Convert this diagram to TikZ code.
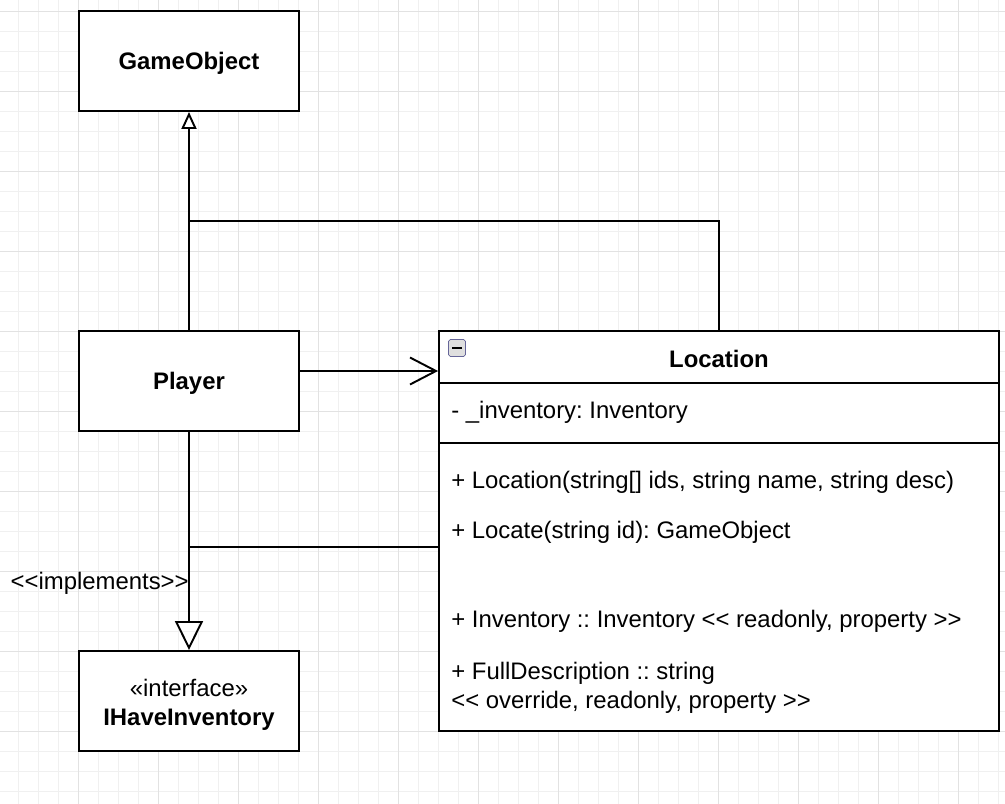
\documentclass[tikz,border=0pt]{standalone}
\usepackage{fontspec}
\setmainfont{Liberation Sans}[Ligatures=TeXOff]
\usetikzlibrary{arrows.meta}
\definecolor{gridminor}{HTML}{F0F0F0}
\definecolor{gridmajor}{HTML}{E2E2E2}
\frenchspacing

\begin{document}
\begin{tikzpicture}[x=0.02cm,y=-0.02cm,
   every node/.style={font=\fontsize{13.6}{16}\selectfont, inner sep=0pt,
      text height=9.6pt, text depth=0pt},
   umlbox/.style={draw, fill=white, line width=1.1pt, minimum width=4.4cm, minimum height=2cm},
   wire/.style={line width=1.1pt},
   member/.style={anchor=west},
   extends/.style={wire, -{Triangle[open, length=0.34cm, width=0.3cm]}},
   realizes/.style={wire, -{Triangle[open, length=0.58cm, width=0.56cm]}},
   assoc/.style={wire, -{Straight Barb[length=0.52cm, width=0.54cm, line width=1.1pt]}}]
   \useasboundingbox (0,0) rectangle (1005,804);
   % grid
   \foreach \x in {18,38,...,1005} \draw[gridminor, line width=0.5pt] (\x,0) -- (\x,804);
   \foreach \y in {11,31,...,804} \draw[gridminor, line width=0.5pt] (0,\y) -- (1005,\y);
   \foreach \x in {78,158,...,1005} \draw[gridmajor, line width=0.5pt] (\x,0) -- (\x,804);
   \foreach \y in {11,91,...,804} \draw[gridmajor, line width=0.5pt] (0,\y) -- (1005,\y);

   % classes
   \node[umlbox] (gobj) at (189,61) {\bfseries GameObject};
   \node[umlbox] (player) at (189,381) {\bfseries Player};
   \node[umlbox] (iinv) at (189,701) {};
   \node (iinvst) at (189,688) {«interface»};
   \node[font=\fontsize{13.6}{16}\selectfont\bfseries] (iinvname) at (189,717) {IHaveInventory};
   \node[draw, fill=white, line width=1.1pt, minimum width=11.2cm, minimum height=8cm]
      (loc) at (719,531) {};
   \node[font=\fontsize{13.6}{16}\selectfont\bfseries] (locname) at (719,359) {Location};
   \draw[wire] (439,383) -- (999,383);
   \draw[wire] (439,443) -- (999,443);
   \node[draw=gray!80!blue, fill=gray!25, rounded corners=1pt, minimum width=0.34cm,
      minimum height=0.34cm, text height=0pt] (fold) at (457,348) {};
   \draw[line width=1.4pt] (452,348) -- (462,348);
   \node[member] (attr) at (451,410) {- \_inventory: Inventory};
   \node[member] (m1) at (451,480) {+ Location(string[] ids, string name, string desc)};
   \node[member] (m2) at (451,530) {+ Locate(string id): GameObject};
   \node[member] (m3) at (451,619) {+ Inventory :: Inventory << readonly, property >>};
   \node[member] (m4) at (451,671) {+ FullDescription :: string};
   \node[member] (m5) at (451,700) {<< override, readonly, property >>};

   % relations
   \draw[extends] (player.north) -- (gobj.south);
   \coordinate (j1) at (189,221);
   \draw[wire] (loc.north) |- (j1);
   \draw[assoc] ([yshift=0.2cm]player.east) -- ([yshift=0.2cm]player.east -| loc.west);
   \draw[realizes] (player.south) -- (iinv.north);
   \coordinate (j2) at (189,547);
   \draw[wire] (loc.west |- j2) -- (j2);
   \node[anchor=east] (impl) at (189,581) {<<implements>>};
\end{tikzpicture}
\end{document}
